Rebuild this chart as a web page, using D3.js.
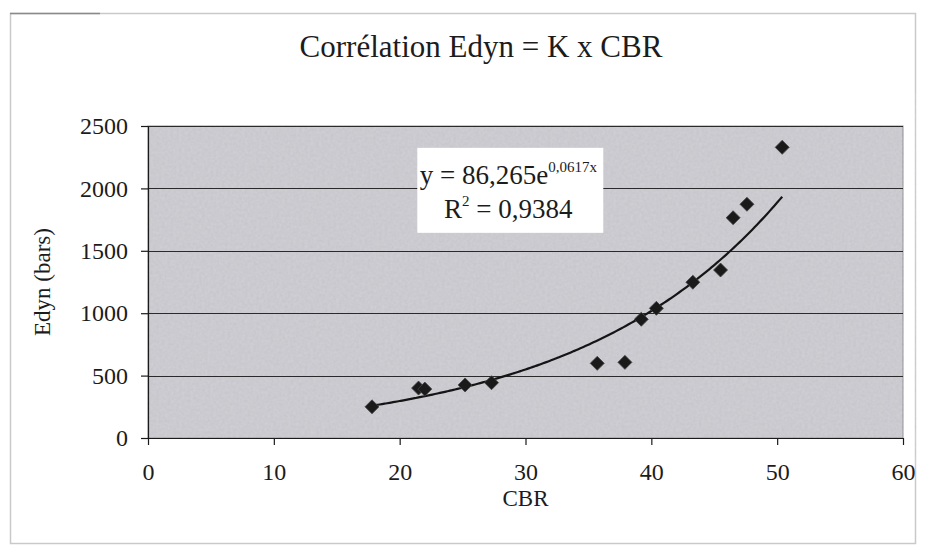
<!DOCTYPE html>
<html>
<head>
<meta charset="utf-8">
<script src="https://cdn.jsdelivr.net/npm/d3@7"></script>
<style>
    html, body { margin: 0; padding: 0; background: #fff; }
    text { font-family: "Liberation Serif", "DejaVu Serif", serif; fill: #1c1c1c; }
    .grid line { stroke: #2a2a2a; stroke-width: 1; }
    .axis path, .axis line { stroke: #1a1a1a; stroke-width: 1.2; }
</style>
</head>
<body>
<div id="chart"></div>
<script>
(function (d3) {
    'use strict';

    var cbr = [17.8, 21.5, 22.0, 25.2, 27.3, 35.7, 37.9, 39.2, 40.4, 43.3, 45.5, 46.5, 47.6, 50.4];
    var edyn = [250, 400, 392, 425, 443, 598, 606, 951, 1039, 1248, 1346, 1765, 1873, 2329];

    // Exponential trendline printed on the chart: y = a * e^(b x)
    var trendA = 86.265;
    var trendB = 0.0617;
    var trendR2 = '0,9384';

    var xTicks = [0, 10, 20, 30, 40, 50, 60];
    var yTicks = [0, 500, 1000, 1500, 2000, 2500];

    var width = 925;
    var height = 556;
    var margin = {top: 126, right: 22, bottom: 118, left: 148};
    var plotW = width - margin.left - margin.right;
    var plotH = height - margin.top - margin.bottom;

    var svg = d3.select('#chart').append('svg')
        .attr('width', width)
        .attr('height', height)
    ;

    // scanned-paper grain for the plot background
    var defs = svg.append('defs');
    var grain = defs.append('filter').attr('id', 'grain');
    grain.append('feTurbulence')
        .attr('type', 'fractalNoise')
        .attr('baseFrequency', 0.35)
        .attr('numOctaves', 2)
        .attr('seed', 4)
    ;
    grain.append('feColorMatrix')
        .attr('type', 'matrix')
        .attr('values', '0 0 0 0 1  0 0 0 0 1  0 0 0 0 1  0 0 0 0.35 -0.05')
    ;

    // Outer frame of the chart object
    svg.append('rect')
        .attr('x', 10.5)
        .attr('y', 13.5)
        .attr('width', 905)
        .attr('height', 530)
        .attr('fill', '#fff')
        .attr('stroke', '#c9c9c9')
        .attr('stroke-width', 1.5)
    ;
    svg.append('line')
        .attr('x1', 10).attr('x2', 100)
        .attr('y1', 13.5).attr('y2', 13.5)
        .attr('stroke', '#8a8a8a')
        .attr('stroke-width', 1.5)
    ;

    var x = d3.scaleLinear().domain([0, 60]).range([0, plotW]);
    var y = d3.scaleLinear().domain([0, 2500]).range([plotH, 0]);

    var g = svg.append('g')
        .attr('transform', translate(margin.left, margin.top))
    ;

    g.append('rect')
        .attr('width', plotW)
        .attr('height', plotH)
        .attr('fill', '#c6c6cc')
        .attr('stroke', '#8c8c90')
        .attr('stroke-width', 1)
    ;
    g.append('rect')
        .attr('width', plotW)
        .attr('height', plotH)
        .attr('filter', 'url(#grain)')
        .attr('opacity', 0.6)
    ;

    // Horizontal gridlines
    g.append('g')
        .attr('class', 'grid')
        .selectAll('line')
        .data(yTicks.slice(1))
        .join('line')
        .attr('x1', 0)
        .attr('x2', plotW)
        .attr('y1', function (d) { return Math.round(y(d)) + 0.5; })
        .attr('y2', function (d) { return Math.round(y(d)) + 0.5; })
    ;

    // Axes
    var xAxis = g.append('g')
        .attr('class', 'axis x-axis')
        .attr('transform', translate(0, plotH))
        .call(d3.axisBottom(x).tickValues(xTicks).tickFormat(d3.format('d'))
            .tickSize(7).tickSizeOuter(0).tickPadding(18))
    ;
    xAxis.attr('font-family', null).attr('font-size', null);
    xAxis.selectAll('text')
        .style('font-size', '24px')
        .attr('fill', '#1c1c1c')
    ;

    var yAxis = g.append('g')
        .attr('class', 'axis y-axis')
        .call(d3.axisLeft(y).tickValues(yTicks).tickFormat(d3.format('d'))
            .tickSize(7).tickSizeOuter(0).tickPadding(13))
    ;
    yAxis.attr('font-family', null).attr('font-size', null);
    yAxis.selectAll('text')
        .style('font-size', '24px')
        .attr('fill', '#1c1c1c')
    ;

    // Trendline over the range of the data
    var xs = d3.range(d3.min(cbr), d3.max(cbr) + 0.01, 0.2);
    var trendLine = d3.line()
        .x(function (d) { return x(d); })
        .y(function (d) { return y(trendA * Math.exp(trendB * d)); })
        .curve(d3.curveBasis)
    ;
    g.append('path')
        .datum(xs)
        .attr('d', trendLine)
        .attr('fill', 'none')
        .attr('stroke', '#151515')
        .attr('stroke-width', 2.2)
    ;

    // Data markers (diamonds)
    var diamond = d3.symbol().type(d3.symbolDiamond2).size(125);
    g.append('g')
        .selectAll('path')
        .data(cbr)
        .join('path')
        .attr('d', diamond)
        .attr('transform', function (d, i) { return translate(x(d), y(edyn[i])); })
        .attr('fill', '#1a1a1a')
        .attr('stroke', '#444')
        .attr('stroke-width', 0.8)
    ;

    // Equation label
    var box = g.append('g').attr('transform', translate(x(21.4), y(2325)));
    box.append('rect')
        .attr('width', 186)
        .attr('height', 85)
        .attr('fill', '#fff')
    ;
    var eq = box.append('text')
        .attr('x', 91)
        .attr('y', 36)
        .attr('text-anchor', 'middle')
        .style('font-size', '27px')
    ;
    eq.append('tspan').text('y = ' + String(trendA).replace('.', ',') + 'e');
    eq.append('tspan')
        .attr('dy', -12)
        .style('font-size', '15px')
        .text(String(trendB).replace('.', ',') + 'x')
    ;
    var r2 = box.append('text')
        .attr('x', 91)
        .attr('y', 70)
        .attr('text-anchor', 'middle')
        .style('font-size', '27px')
    ;
    r2.append('tspan').text('R');
    r2.append('tspan').attr('dy', -12).style('font-size', '15px').text('2');
    r2.append('tspan').attr('dy', 12).text(' = ' + trendR2);

    // Title and axis titles
    svg.append('text')
        .attr('x', 481)
        .attr('y', 57)
        .attr('text-anchor', 'middle')
        .style('font-size', '31px')
        .text('Corrélation Edyn = K x CBR')
    ;

    svg.append('text')
        .attr('text-anchor', 'middle')
        .attr('transform', translate(50, 282) + ' rotate(-90)')
        .style('font-size', '23px')
        .text('Edyn (bars)')
    ;

    svg.append('text')
        .attr('x', margin.left + plotW / 2)
        .attr('y', 506)
        .attr('text-anchor', 'middle')
        .style('font-size', '23px')
        .text('CBR')
    ;

    function translate(a, b) {
        return 'translate(' + a + ', ' + b + ')';
    }

})(d3);
</script>
</body>
</html>
